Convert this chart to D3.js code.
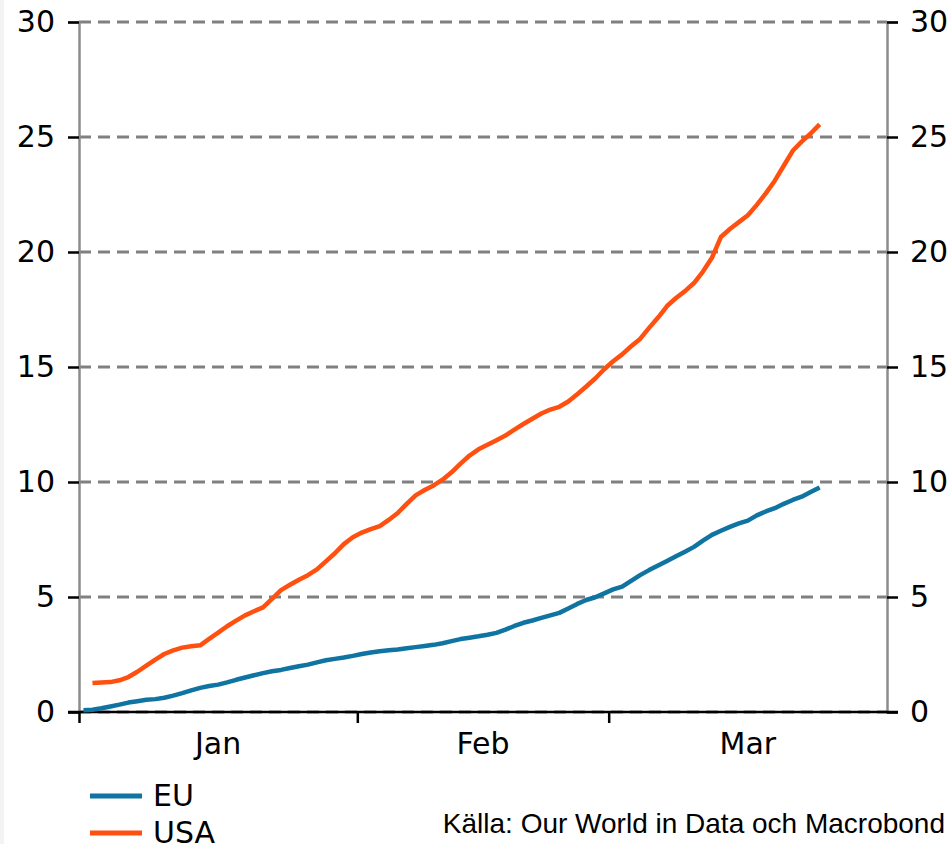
<!DOCTYPE html>
<html>
<head>
<meta charset="utf-8">
<script src="https://cdn.jsdelivr.net/npm/d3@7"></script>
<style>
  body { margin: 0; background: #fff; }
  svg { display: block; }
  .tick-label { font-family: "DejaVu Sans", Verdana, sans-serif; font-size: 30px; fill: #000; }
  .source { font-family: "Liberation Sans", Arial, sans-serif; font-size: 28px; fill: #000; }
</style>
</head>
<body>
<div id="chart"></div>
<script>
// vaccinations per 100 inhabitants, daily from 1 Jan (EU) / 2 Jan (USA)
const euValues = [0.08, 0.10, 0.16, 0.24, 0.32, 0.41, 0.47, 0.53, 0.56, 0.62,
    0.71, 0.82, 0.94, 1.05, 1.13, 1.19, 1.29, 1.40, 1.50, 1.60,
    1.69, 1.77, 1.83, 1.91, 1.99, 2.06, 2.16, 2.25, 2.31, 2.37,
    2.44, 2.52, 2.59, 2.64, 2.68, 2.72, 2.77, 2.82, 2.87, 2.92,
    2.99, 3.08, 3.17, 3.23, 3.29, 3.36, 3.44, 3.58, 3.74, 3.88,
    3.98, 4.09, 4.20, 4.31, 4.50, 4.70, 4.87, 4.99, 5.16, 5.33,
    5.45, 5.70, 5.95, 6.17, 6.37, 6.57, 6.77, 6.97, 7.18, 7.45,
    7.70, 7.88, 8.05, 8.20, 8.32, 8.55, 8.72, 8.86, 9.05, 9.22,
    9.36, 9.56, 9.76];
const usaValues = [1.26, 1.28, 1.30, 1.38, 1.52, 1.75, 2.02, 2.28, 2.52,
    2.68, 2.80, 2.86, 2.90, 3.18, 3.45, 3.73, 3.97, 4.20, 4.38,
    4.55, 4.92, 5.30, 5.53, 5.75, 5.95, 6.20, 6.55, 6.90, 7.30,
    7.60, 7.80, 7.95, 8.08, 8.35, 8.65, 9.05, 9.42, 9.65, 9.85,
    10.10, 10.42, 10.80, 11.15, 11.42, 11.62, 11.82, 12.02, 12.28, 12.52,
    12.75, 12.98, 13.15, 13.27, 13.50, 13.82, 14.15, 14.50, 14.90, 15.25,
    15.55, 15.90, 16.22, 16.70, 17.15, 17.65, 18.00, 18.30, 18.65, 19.15,
    19.75, 20.65, 21.00, 21.30, 21.60, 22.05, 22.55, 23.10, 23.75, 24.40,
    24.80, 25.15, 25.55];
const euStart = new Date(2021, 0, 1);
const usaStart = new Date(2021, 0, 2);
const yTicks = [0, 5, 10, 15, 20, 25, 30];
const monthTicks = [new Date(2021, 0, 1), new Date(2021, 1, 1), new Date(2021, 2, 1)];
const monthLabels = ["Jan", "Feb", "Mar"];
const monthMids = [new Date(2021, 0, 16, 12), new Date(2021, 1, 15), new Date(2021, 2, 16, 12)];
const seriesNames = ["EU", "USA"];
const colors = ["#0f74a2", "#ff500f"];

const width = 952, height = 844;
const margin = {left: 79, right: 65, top: 22, bottom: 132};

const svg = d3.select("#chart").append("svg")
    .attr("width", width).attr("height", height);

svg.append("rect").attr("width", width).attr("height", height).attr("fill", "#fff");
svg.append("rect").attr("width", 4).attr("height", height).attr("fill", "#f3f3f3");

let x = d3.scaleTime()
    .domain([new Date(2021, 0, 1), new Date(2021, 3, 1)])
    .range([margin.left, width - margin.right]);
let y = d3.scaleLinear()
    .domain([0, 30])
    .range([height - margin.bottom, margin.top]);

// gridlines
svg.append("g")
    .selectAll("line")
    .data(yTicks)
    .enter().append("line")
    .attr("x1", x.range()[0]).attr("x2", x.range()[1])
    .attr("y1", d => y(d)).attr("y2", d => y(d))
    .attr("stroke", "#808080")
    .attr("stroke-width", 3)
    .attr("stroke-dasharray", "12,7");

// left axis
let leftAxis = svg.append("g")
    .attr("transform", `translate(${margin.left},0)`)
    .call(d3.axisLeft(y).tickValues(yTicks).tickSize(11).tickPadding(13));
// right axis
let rightAxis = svg.append("g")
    .attr("transform", `translate(${width - margin.right},0)`)
    .call(d3.axisRight(y).tickValues(yTicks).tickSize(11).tickPadding(12));

[leftAxis, rightAxis].forEach(a => {
    a.select(".domain").attr("stroke", "#8c8c8c").attr("stroke-width", 2.5);
    a.selectAll(".tick line").attr("stroke", "#000").attr("stroke-width", 2.5);
    a.selectAll(".tick text").attr("class", "tick-label").attr("font-family", null).attr("font-size", null);
});

// bottom axis
let bottomAxis = svg.append("g")
    .attr("transform", `translate(0,${y(0)})`)
    .call(d3.axisBottom(x).tickValues(monthTicks).tickSize(11).tickFormat(""));
bottomAxis.select(".domain").remove();
bottomAxis.selectAll(".tick line").attr("stroke", "#000").attr("stroke-width", 2.5);
svg.append("line")
    .attr("x1", margin.left - 11).attr("x2", width - margin.right + 11)
    .attr("y1", y(0)).attr("y2", y(0))
    .attr("stroke", "#000").attr("stroke-width", 2.5);

svg.append("g")
    .selectAll("text")
    .data(monthLabels)
    .enter().append("text")
    .attr("class", "tick-label")
    .attr("x", (d, i) => x(monthMids[i]))
    .attr("y", y(0) + 42)
    .attr("text-anchor", "middle")
    .text(d => d);

// series lines, points plotted at midday
let line = d3.line()
    .x(d => x(d.date))
    .y(d => y(d.value));

function toPoints(values, start) {
    return values.map((v, i) => ({
        date: d3.timeHour.offset(d3.timeDay.offset(start, i), 12),
        value: v
    }));
}

let series = [toPoints(euValues, euStart), toPoints(usaValues, usaStart)];

svg.append("g")
    .selectAll("path")
    .data(series)
    .enter().append("path")
    .attr("d", line)
    .attr("fill", "none")
    .attr("stroke", (d, i) => colors[i])
    .attr("stroke-width", 4.5)
    .attr("stroke-linejoin", "round");

// legend
let legend = svg.append("g")
    .selectAll("g")
    .data(seriesNames)
    .enter().append("g")
    .attr("transform", (d, i) => `translate(90,${796 + i * 37})`);
legend.append("line")
    .attr("x1", 0).attr("x2", 52)
    .attr("stroke", (d, i) => colors[i])
    .attr("stroke-width", 5);
legend.append("text")
    .attr("class", "tick-label")
    .attr("x", 63)
    .attr("y", 10)
    .text(d => d);

svg.append("text")
    .attr("class", "source")
    .attr("x", 945)
    .attr("y", 833)
    .attr("text-anchor", "end")
    .text("Källa: Our World in Data och Macrobond");
</script>
</body>
</html>
